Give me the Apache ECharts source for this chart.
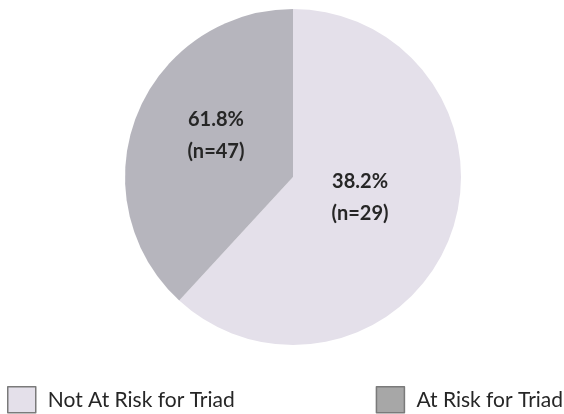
<!DOCTYPE html>
<html>
<head>
<meta charset="utf-8">
<script src="https://cdn.jsdelivr.net/npm/echarts@6/dist/echarts.min.js"></script>
<style>
html,body{margin:0;padding:0;background:#fff;}
#chart{width:564px;height:414px;}
</style>
</head>
<body>
<div id="chart"></div>
<script>
// Categories (legend names) and values (slice sizes, n)
var categories = ['Not At Risk for Triad', 'At Risk for Triad'];
var values = [47, 29];
// Label text shown inside each slice, as printed in the reference
var sliceLabels = ['38.2%\n(n=29)', '61.8%\n(n=47)'];
var sliceColors = ['#e4e0ea', '#b6b5bd'];
var legendColors = ['#e4e0ea', '#a7a7a7'];
var labelOffsets = [[-14, -11], [4, -10]];

var chart = echarts.init(document.getElementById('chart'), null, {renderer: 'canvas'});

var data = categories.map(function (name, i) {
  return {
    name: name,
    value: values[i],
    itemStyle: {color: sliceColors[i]},
    label: {offset: labelOffsets[i]}
  };
});

var option = {
  animation: false,
  backgroundColor: '#ffffff',
  legend: {
    left: 7,
    top: 386,
    orient: 'horizontal',
    itemWidth: 28,
    itemHeight: 26,
    itemGap: 141,
    icon: 'rect',
    selectedMode: false,
    padding: 0,
    textStyle: {
      fontFamily: 'Lato',
      fontSize: 21,
      color: '#262626',
      padding: [0, 0, 0, 7]
    },
    data: categories.map(function (name, i) {
      return {
        name: name,
        itemStyle: {color: legendColors[i], borderColor: '#7a7a7a', borderWidth: 1.5}
      };
    })
  },
  series: [{
    type: 'pie',
    center: [293, 177],
    radius: [0, 168],
    startAngle: 90,
    clockwise: true,
    silent: true,
    label: {
      show: true,
      position: 'inside',
      formatter: function (p) { return sliceLabels[p.dataIndex]; },
      fontFamily: 'Lato',
      fontWeight: 'bold',
      fontSize: 20,
      lineHeight: 32,
      color: '#262626'
    },
    labelLine: {show: false},
    itemStyle: {borderWidth: 0},
    data: data
  }]
};
chart.setOption(option);
</script>
</body>
</html>
